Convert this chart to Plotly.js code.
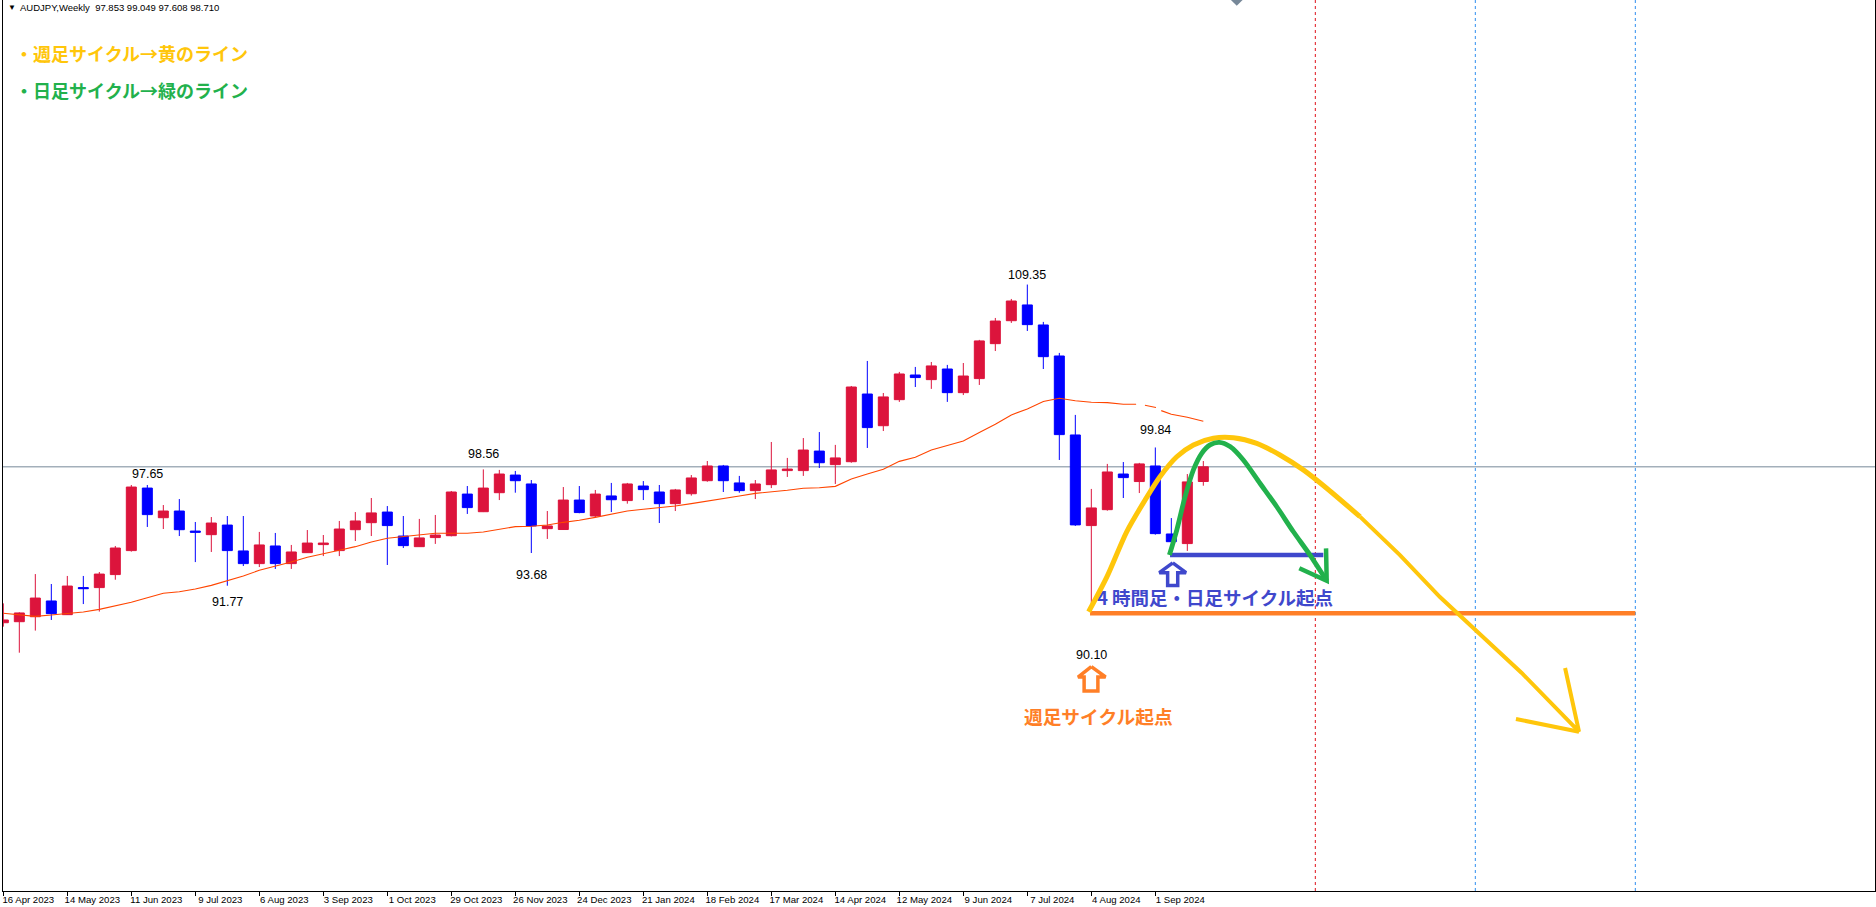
<!DOCTYPE html>
<html><head><meta charset="utf-8">
<script src="https://cdn.plot.ly/plotly-3.0.1.min.js"></script>
<style>html,body{margin:0;padding:0;background:#fff;overflow:hidden}#c{width:1876px;height:907px}</style>
</head><body><div id="c"></div>
<script>
// Weekly AUDJPY candles (one per week starting 16 Apr 2023)
const tickLabels = ["16 Apr 2023","14 May 2023","11 Jun 2023","9 Jul 2023","6 Aug 2023","3 Sep 2023","1 Oct 2023","29 Oct 2023","26 Nov 2023","24 Dec 2023","21 Jan 2024","18 Feb 2024","17 Mar 2024","14 Apr 2024","12 May 2024","9 Jun 2024","7 Jul 2024","4 Aug 2024","1 Sep 2024"];
const tickWeeks = [0,4,8,12,16,20,24,28,32,36,40,44,48,52,56,60,64,68,72];
const open  = [89.61,89.67,89.96,90.88,90.08,91.66,91.66,92.42,93.82,97.47,95.74,96.13,94.96,94.75,95.31,93.80,93.06,94.09,93.06,93.70,94.17,93.82,95.04,95.45,96.07,94.67,94.05,94.58,94.69,97.12,96.09,97.20,98.23,97.71,95.10,95.05,96.77,95.84,97.01,96.74,97.59,97.24,96.56,97.14,97.90,98.76,97.77,97.32,97.67,98.49,98.49,99.63,98.84,99.01,102.96,101.11,102.63,104.07,103.80,104.42,103.04,103.86,105.90,107.24,108.16,106.99,105.18,100.57,95.28,96.21,98.29,97.85,98.76,94.79,94.23,97.853];
const high  = [90.74,90.22,92.45,91.87,92.34,92.34,92.57,94.09,97.65,97.65,96.48,96.83,95.49,95.78,95.84,95.84,94.91,94.85,94.15,95.02,94.73,95.55,96.07,96.89,96.42,95.84,95.67,95.90,97.30,97.59,98.56,98.53,98.47,97.94,96.13,97.53,97.59,97.36,97.77,97.77,97.88,97.65,97.42,98.23,99.05,98.82,98.18,97.94,100.16,99.23,100.39,100.74,99.99,103.43,104.89,103.02,104.25,104.54,104.83,104.66,104.77,106.12,107.40,108.51,109.35,107.17,105.36,101.74,97.42,98.88,98.99,98.94,99.84,95.72,98.29,99.049];
const low   = [89.38,87.86,89.15,89.77,90.06,90.70,90.26,92.12,93.76,95.20,95.08,94.67,93.15,93.74,91.77,92.92,92.86,92.75,92.75,93.68,93.50,93.50,94.38,94.67,92.98,93.97,94.03,94.21,94.65,95.96,96.07,96.77,97.20,93.68,94.50,95.04,96.00,95.78,96.07,96.56,96.77,95.43,96.13,97.03,97.84,97.24,97.20,96.83,97.47,98.12,98.18,98.64,97.71,98.95,99.81,100.80,102.50,103.37,103.26,102.50,102.90,103.49,105.47,107.11,106.64,104.42,99.11,95.26,90.10,96.15,96.89,97.18,94.75,94.32,93.80,97.608];
const close = [89.77,90.18,91.05,90.14,91.75,91.60,92.45,93.97,97.53,95.92,96.13,95.04,94.89,95.43,93.82,93.06,94.15,93.06,93.74,94.26,94.26,95.08,95.55,96.02,95.28,94.11,94.56,94.73,97.24,96.33,97.47,98.29,97.90,95.26,95.26,96.77,96.04,97.12,96.79,97.71,97.38,96.56,97.36,98.06,98.76,97.90,97.32,97.71,98.53,98.58,99.69,98.95,99.23,103.37,101.00,102.79,104.13,103.92,104.60,103.04,104.01,106.06,107.22,108.39,107.01,105.14,100.59,95.32,96.31,98.41,98.08,98.88,94.81,94.34,97.83,98.710];

// Moving average
const maWeek = [0,1,2,3,4,5,6,7,8,9,10,11,12,13,14,15,16,17,18,19,20,21,22,23,24,25,26,27,28,29,30,31,32,33,34,35,36,37,38,39,40,41,42,43,44,45,46,47,48,49,50,51,52,53,54,55,56,57,58,59,60,61,62,63,64,65,66,67,68,69,70,70.8,null,71.35,72.04,null,72.37,73,74,75];
const maPrice = [90.16,90.08,89.98,90.06,90.14,90.24,90.39,90.59,90.80,91.07,91.33,91.42,91.58,91.79,92.06,92.34,92.67,92.90,93.15,93.43,93.62,93.84,94.05,94.32,94.54,94.63,94.75,94.83,94.83,94.83,94.91,95.06,95.22,95.24,95.31,95.47,95.59,95.76,95.96,96.13,96.23,96.31,96.42,96.56,96.70,96.83,97.01,97.16,97.24,97.34,97.46,97.49,97.57,98.00,98.29,98.57,99.03,99.27,99.69,99.95,100.22,100.71,101.19,101.74,102.09,102.52,102.71,102.57,102.48,102.46,102.36,102.36,null,102.30,102.17,null,101.99,101.78,101.60,101.37];

// Hand-drawn cycle curves, in (week, price)
const yellowWeek  = [67.83,68.98,70.21,71.36,72.29,73.34,74.38,75.63,76.88,78.34,79.79,81.25,82.71,84.79];
const yellowPrice = [90.25,92.30,94.92,96.77,98.13,99.30,99.99,100.38,100.41,100.08,99.40,98.53,97.46,95.80];
const yellowTailWeek  = [84.79,87.29,89.79,92.67,94.90,98.48,97.61,null,98.48,94.54];
const yellowTailPrice = [95.80,93.56,91.11,88.60,86.68,83.25,86.97,null,83.25,83.99];
const greenWeek   = [72.88,73.34,73.86,74.38,74.90,75.42,76.00,76.67,77.50,78.54,79.59,80.63,81.67,82.71];
const greenPrice  = [93.56,95.02,96.97,98.53,99.50,99.99,100.14,99.89,99.11,97.75,96.38,94.92,93.56,92.06];
const greenHeadWeek  = [82.67,82.71,81.00];
const greenHeadPrice = [93.95,92.06,92.79];
const dailyLineWeek = [72.92,82.5],  dailyLinePrice = [93.56,93.56];
const weeklyLineWeek = [67.92,102],  weeklyLinePrice = [90.16,90.16];
const blueArrowWeek  = [73.09,73.92,73.40,73.40,72.77,72.77,72.25,73.09];
const blueArrowPrice = [93.10,92.53,92.53,91.79,91.79,92.53,92.53,93.10];
const orangeArrowWeek  = [68.0,68.89,68.41,68.41,67.55,67.55,67.17,68.0];
const orangeArrowPrice = [87.05,86.44,86.44,85.62,85.62,86.44,86.44,87.05];

// Price labels
const peakLabels = ["97.65","91.77","98.56","93.68","109.35","99.84","90.10"];
const peakWeeks  = [9,14,30,33,64,72,68];
const peakPrices = [98.27,90.82,99.46,92.40,109.91,100.86,87.73];

const lastPrice = 98.71;
const cycleWeeks = [82,92,102];
const cycleColors = ["#e0101a","#2f8ff0","#2f8ff0"];
const RED="#DC143C", BLUE="#0000FF", YELLOW="#FFC60B", GREEN="#22B14C", ORANGE="#FF7F27", INDIGO="#3F48CC", MA="#FF4500", SLATE="#778899";
const CJK='"Noto Sans CJK JP","Noto Sans",sans-serif', LAT='"Liberation Sans",Arial,sans-serif';

const weeks = open.map((_,i)=>i);
const lineTrace=(x,y,color,width,spline)=>({type:'scatter',mode:'lines',x,y,line:spline?{color,width,shape:'spline',smoothing:0.8}:{color,width,shape:'linear'},connectgaps:false,hoverinfo:'skip',showlegend:false});

const traces=[
 {type:'candlestick',x:weeks,open,high,low,close,whiskerwidth:0,
  increasing:{line:{color:RED,width:1},fillcolor:RED},decreasing:{line:{color:BLUE,width:1},fillcolor:BLUE},showlegend:false,hoverinfo:'skip'},
 lineTrace(maWeek,maPrice,MA,1.1),
 {type:'scatter',mode:'markers',x:[77.09],y:[125.96],marker:{symbol:'diamond',size:9,color:SLATE},hoverinfo:'skip',showlegend:false},
 lineTrace(weeklyLineWeek,weeklyLinePrice,ORANGE,4.5),
 lineTrace(dailyLineWeek,dailyLinePrice,INDIGO,4.5),
 {type:'scatter',mode:'text',x:[75.73],y:[90.90],text:["4 時間足・日足サイクル起点"],textposition:'middle center',
  textfont:{family:CJK,size:18.5,color:INDIGO,weight:700},hoverinfo:'skip',showlegend:false},
 lineTrace(blueArrowWeek,blueArrowPrice,INDIGO,3.5),
 lineTrace(orangeArrowWeek,orangeArrowPrice,ORANGE,3.5),
 lineTrace(yellowWeek,yellowPrice,YELLOW,5,true),
 lineTrace(yellowTailWeek,yellowTailPrice,YELLOW,4),
 lineTrace(greenWeek,greenPrice,GREEN,4.8,true),
 lineTrace(greenHeadWeek,greenHeadPrice,GREEN,4.5),
];

const shapes=[{type:'line',xref:'paper',x0:0,x1:1,yref:'y',y0:lastPrice,y1:lastPrice,line:{color:SLATE,width:1},layer:'below'}];
cycleWeeks.forEach((w,i)=>shapes.push({type:'line',xref:'x',x0:w,x1:w,yref:'paper',y0:0,y1:1,line:{color:cycleColors[i],width:1,dash:'3px,3px'},layer:'below'}));

const annotations=peakLabels.map((t,i)=>({x:peakWeeks[i],y:peakPrices[i],xref:'x',yref:'y',text:t,showarrow:false,xanchor:'center',yanchor:'middle',font:{family:LAT,size:12.5,color:'#000'}}));
const pageText=(text,x,y,color,size,weight,family,anchor)=>({xref:'paper',yref:'paper',x,y,text,showarrow:false,xanchor:anchor||'left',yanchor:'middle',font:{family,size,color,weight}});
annotations.push(
 pageText("▼",0.0017,0.9916,"#000",8,400,LAT),
 pageText("AUDJPY,Weekly&nbsp;&nbsp;97.853 99.049 97.608 98.710",0.0078,0.9916,"#000",9.5,400,LAT),
 pageText("・週足サイクル→黄のライン",0.0055,0.9405,YELLOW,18,700,CJK),
 pageText("・日足サイクル→緑のライン",0.0055,0.8985,GREEN,18,700,CJK),
 {x:68.45,y:84.22,xref:'x',yref:'y',text:"週足サイクル起点",showarrow:false,xanchor:'center',yanchor:'middle',font:{family:CJK,size:18.7,color:ORANGE,weight:700}}
);

const layout={width:1876,height:907,autosize:false,paper_bgcolor:'#fff',plot_bgcolor:'#fff',showlegend:false,
 boxmode:'overlay',boxgap:0.375,boxgroupgap:0,
 margin:{l:3,r:1,t:0,b:16,pad:0},
 xaxis:{type:'linear',range:[-0.02,116.98],tickmode:'array',tickvals:tickWeeks,ticktext:tickLabels,ticks:'outside',ticklen:4,tickwidth:1,tickcolor:'#000',
  showgrid:false,zeroline:false,showline:true,linecolor:'#000',linewidth:1,rangeslider:{visible:false},
  tickfont:{family:LAT,size:9.6,color:'#000'},ticklabelshift:25,ticklabelstandoff:-5,tickangle:0},
 yaxis:{type:'linear',range:[73.95,125.96],showgrid:false,zeroline:false,showline:true,mirror:true,linecolor:'#000',linewidth:1,showticklabels:false,ticks:''},
 shapes,annotations};
Plotly.newPlot('c',traces,layout,{displayModeBar:false,staticPlot:true});
</script></body></html>
